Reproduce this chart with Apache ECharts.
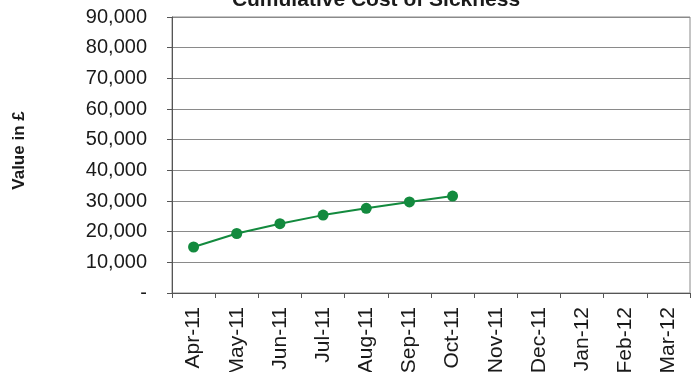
<!DOCTYPE html>
<html>
<head>
<meta charset="utf-8">
<script src="https://cdn.jsdelivr.net/npm/echarts@6/dist/echarts.min.js"></script>
<style>
  html, body { margin: 0; padding: 0; background: #fff; }
  #chart { width: 699px; height: 372px; }
</style>
</head>
<body>
<div id="chart"></div>
<script>
// Months of the financial year
const months = ['Apr-11', 'May-11', 'Jun-11', 'Jul-11', 'Aug-11', 'Sep-11',
                'Oct-11', 'Nov-11', 'Dec-11', 'Jan-12', 'Feb-12', 'Mar-12'];
// Cumulative cost (£); months not yet reported are left empty
const cumulativeCost = [15000, 19400, 22600, 25400, 27600, 29700, 31600,
                        null, null, null, null, null];
// Value axis range
const yMin = 0;
const yMax = 90000;
const yStep = 10000;

const chart = echarts.init(document.getElementById('chart'), null, { renderer: 'canvas' });
const font = '"Liberation Sans", Arial, sans-serif';
const textColor = '#1a1a1a';

chart.setOption({
  animation: false,
  backgroundColor: '#ffffff',
  title: {
    text: 'Cumulative Cost of Sickness',
    left: 371,
    textAlign: 'center',
    top: -15,
    textStyle: { fontFamily: font, fontSize: 21, fontWeight: 'bold', color: textColor }
  },
  grid: {
    left: 172, right: 9, top: 17, bottom: 79,
    containLabel: false,
    outerBoundsMode: 'none',
    show: true, borderColor: '#8a8a8a', borderWidth: 1
  },
  xAxis: {
    type: 'category',
    data: months,
    boundaryGap: true,
    axisLine: { lineStyle: { color: '#555', width: 1 } },
    axisTick: { show: true, length: 5, inside: false, lineStyle: { color: '#555' } },
    axisLabel: {
      rotate: 90, margin: 14, interval: 0,
      fontFamily: font, fontSize: 21, color: textColor
    }
  },
  yAxis: {
    type: 'value',
    min: yMin, max: yMax, interval: yStep,
    name: 'Value in £',
    nameLocation: 'middle',
    nameGap: 144,
    nameRotate: 90,
    nameTextStyle: {
      fontFamily: font, fontSize: 17, fontWeight: 'bold', color: textColor,
      padding: [0, 0, 0, 9]
    },
    axisLine: { show: true, lineStyle: { color: '#555', width: 1 } },
    axisTick: { show: true, length: 5, inside: false, lineStyle: { color: '#555' } },
    splitLine: { show: true, lineStyle: { color: '#8a8a8a', width: 1 } },
    axisLabel: {
      margin: 25,
      fontFamily: font, fontSize: 20, color: textColor,
      formatter: v => v === 0 ? '-' : v.toLocaleString('en-GB')
    }
  },
  series: [{
    type: 'line',
    data: cumulativeCost,
    symbol: 'circle',
    symbolSize: 11,
    itemStyle: { color: '#138a3e' },
    lineStyle: { color: '#138a3e', width: 2 }
  }]
});
</script>
</body>
</html>
